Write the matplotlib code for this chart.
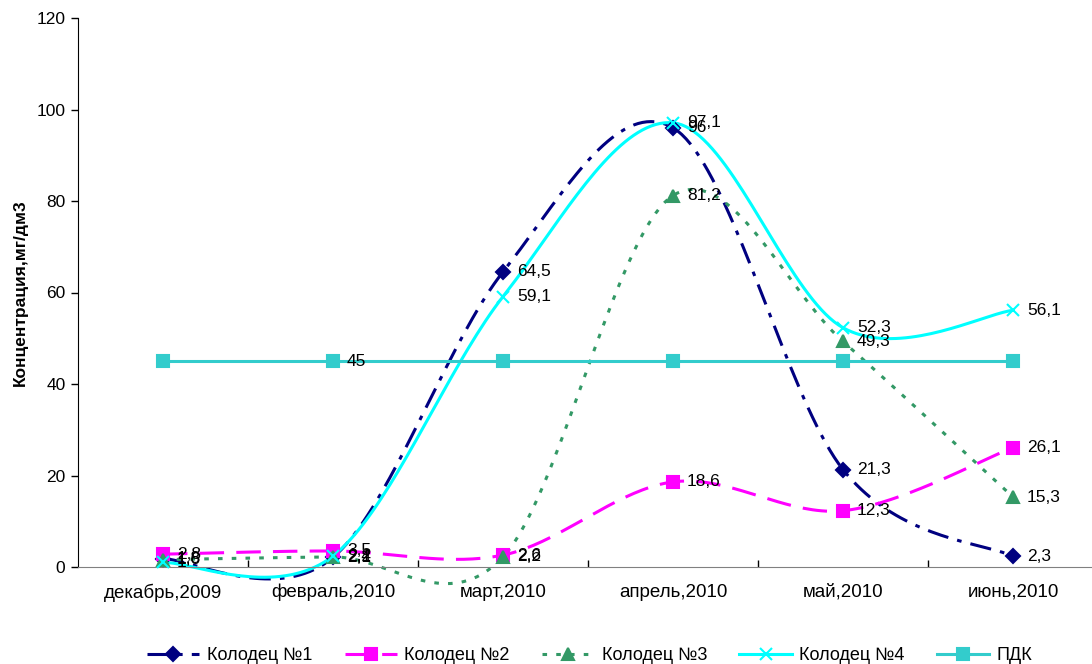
import numpy as np
import matplotlib.pyplot as plt

plt.rcParams['font.family'] = ['Liberation Sans', 'DejaVu Sans']

months = ['декабрь,2009', 'февраль,2010', 'март,2010', 'апрель,2010', 'май,2010', 'июнь,2010']

well1 = [1.8, 2.1, 64.5, 96, 21.3, 2.3]
well2 = [2.8, 3.5, 2.6, 18.6, 12.3, 26.1]
well3 = [1.6, 2.2, 2.2, 81.2, 49.3, 15.3]
well4 = [1.0, 2.4, 59.1, 97.1, 52.3, 56.1]
pdk = [45, 45, 45, 45, 45, 45]


def smooth(xs, ys, n=40):
    # Catmull-Rom style cubic segments, like a spreadsheet "smoothed line"
    p = np.column_stack([xs, ys]).astype(float)
    p = np.vstack([p[0], p, p[-1]])
    out = []
    t = np.linspace(0, 1, n)[:, None]
    for i in range(1, len(p) - 2):
        p0, p1, p2, p3 = p[i - 1], p[i], p[i + 1], p[i + 2]
        c1 = p1 + (p2 - p0) / 6
        c2 = p2 - (p3 - p1) / 6
        seg = ((1 - t) ** 3) * p1 + 3 * ((1 - t) ** 2) * t * c1 + 3 * (1 - t) * t ** 2 * c2 + t ** 3 * p2
        out.append(seg)
    out = np.vstack(out)
    return out[:, 0], out[:, 1]


fig = plt.figure(figsize=(10.92, 6.64), dpi=100)
ax = fig.add_axes([78 / 1092, 97 / 664, 1020 / 1092, 549 / 664])

x = np.arange(len(months))

series = [
    ('Колодец №1', well1, '#000080', (0, (7, 3, 1.5, 3)), 'D', 7),
    ('Колодец №2', well2, '#FF00FF', (0, (8, 4)), 's', 8),
    ('Колодец №3', well3, '#339966', (0, (1.5, 3)), '^', 8),
    ('Колодец №4', well4, '#00FFFF', '-', 'x', 9),
    ('ПДК', pdk, '#33CCCC', '-', 's', 8),
]

for name, vals, col, ls, mk, ms in series:
    if name == 'ПДК':
        sx, sy = x, np.array(vals, dtype=float)
    else:
        sx, sy = smooth(x, vals)
    ax.plot(sx, sy, color=col, lw=2.2, ls=ls, clip_on=False, zorder=2)
    ax.plot(x, vals, ls='none', marker=mk, ms=ms, color=col, mec=col, mew=1.5,
            clip_on=False, zorder=3)
    # legend proxy
    ax.plot([], [], color=col, lw=2.2, ls=ls, marker=mk, ms=ms, mew=1.5, label=name)

    for i, v in enumerate(vals):
        if name == 'ПДК' and i != 1:
            continue
        txt = ('%g' % v).replace('.', ',')
        ax.annotate(txt, (x[i], v), xytext=(10, 0), textcoords='offset points',
                    ha='left', va='center', fontsize=12.5, zorder=4)

ax.set_xlim(-0.5, len(months) - 0.5)
ax.set_ylim(0, 120)
ax.set_yticks(range(0, 121, 20))
ax.set_xticks(x)
ax.set_xticklabels(months)
ax.set_xticks(np.arange(0.5, len(months) - 0.5, 1), minor=True)
ax.tick_params(axis='x', which='major', length=0, pad=12, labelsize=13.5)
ax.tick_params(axis='x', which='minor', length=5, direction='in', width=1)
ax.tick_params(axis='y', length=5, width=1, labelsize=12.5, pad=4)

ax.spines['top'].set_visible(False)
ax.spines['right'].set_visible(False)
ax.spines['left'].set_color('black')
ax.spines['bottom'].set_color('#808080')

ax.set_ylabel('Концентрация,мг/дм3', fontsize=12.5, fontweight='bold', labelpad=6)

fig.legend(loc='center', bbox_to_anchor=(0.54, 0.013), ncol=5, frameon=False,
           fontsize=13, handlelength=2.9, handletextpad=0.4, columnspacing=1.8)

fig.savefig('out.png', dpi=100)
